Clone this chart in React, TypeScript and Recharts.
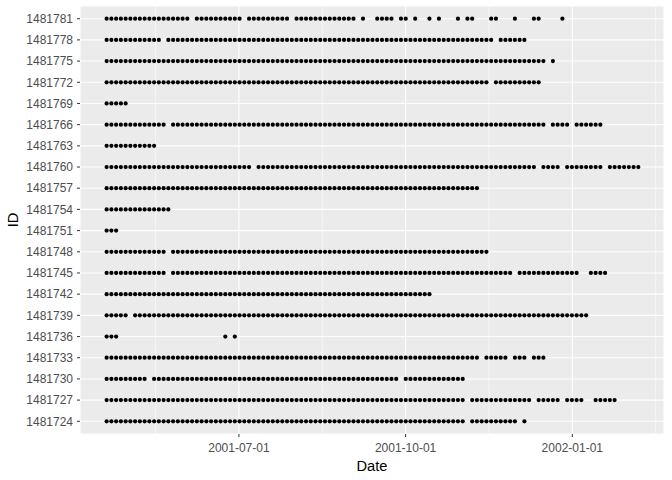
import { ScatterChart, Scatter, XAxis, YAxis, CartesianGrid, Label } from 'recharts'

// animal IDs, bottom row first
const ids = [
  '1481724', '1481727', '1481730', '1481733', '1481736',
  '1481739', '1481742', '1481745', '1481748', '1481751',
  '1481754', '1481757', '1481760', '1481763', '1481766',
  '1481769', '1481772', '1481775', '1481778', '1481781',
]

// one char per fix slot ('#' = fix recorded), spaces only group slots by ten
const fixes = [
  '########## ########## ########## ########## ########## ########## ########## ######.### #######.#',
  '########## ########## ########## ########## ########## ########## ########## ######.### ########## .#####.### #..#####',
  '#########. ########## ########## ########## ########## ########## ##.####### ######',
  '########## ########## ########## ########## ########## ########## ########## #########. #####.###. ###',
  '###....... .......... .....#.#',
  '#####.#### ########## ########## ########## ########## ########## ########## ########## ########## ########## ##',
  '########## ########## ########## ########## ########## ########## #########',
  '########## ###.###### ########## ########## ########## ########## ########## ########## ######.### ########## ..####',
  '########## ###.###### ########## ########## ########## ########## ########## ########## #',
  '###',
  '########## ####',
  '########## ########## ########## ########## ########## ########## ########## #########',
  '########## ########## ########## #.######## ########## ########## ########## ########## ########## #.####.### #####.#### ###',
  '########## #',
  '########## ###.###### ########## ########## ########## ########## ########## ########## ########## ###.####.# #####',
  '#####',
  '########## ########## ########## ########## ########## ########## ########## ########## #.######## ##',
  '########## ########## ########## ########## ########## ########## ########## ########## ########## ###.#',
  '########## ##.####### ########## ########## ########## ########## ########## ########## ##.######',
  '########## ########.# #########. #########. ########## ###.#..### #.##.#..#. #...#.##.. .##...#... ##....#',
]

// days since 2001-01-01
const firstDay = 108
const slotDays = 2.62
const xTickDays = [181, 273, 365]
const xTickLabels = ['2001-07-01', '2001-10-01', '2002-01-01']
const xMinorDays = [135, 227, 319, 411]

const points = fixes.flatMap((s, row) =>
  s.replace(/ /g, '').split('').flatMap((c, k) =>
    c === '#' ? [{ day: firstDay + k * slotDays, row }] : []
  )
)

const rowTicks = ids.map((_, i) => i)

export default function App() {
  return (
    <div style={{ position: 'absolute', left: 0, top: 0, fontFamily: '"Liberation Sans", Arial, sans-serif' }}>
      <ScatterChart width={672} height={480} margin={{ top: 6, right: 8, bottom: 0, left: 0 }}>
        <CartesianGrid fill="#EBEBEB" fillOpacity={1} stroke="#FFFFFF" strokeWidth={1.07} />
        <CartesianGrid horizontal={false} verticalValues={xMinorDays} stroke="#FFFFFF" strokeWidth={0.53} />
        <XAxis
          type="number"
          dataKey="day"
          domain={[93.3, 415.6]}
          ticks={xTickDays}
          interval={0}
          allowDataOverflow
          tickFormatter={(v: number) => xTickLabels[xTickDays.indexOf(v)] ?? ''}
          axisLine={false}
          tickLine={{ stroke: '#333333' }}
          tickSize={3}
          tickMargin={6}
          height={46}
          tick={{ fill: '#4D4D4D', fontSize: 12 }}
        >
          <Label value="Date" position="insideBottom" offset={9} fill="#000000" fontSize={14.7} />
        </XAxis>
        <YAxis
          type="number"
          dataKey="row"
          domain={[-0.6, ids.length - 0.4]}
          ticks={rowTicks}
          interval={0}
          allowDataOverflow
          tickFormatter={(v: number) => ids[v] ?? ''}
          axisLine={false}
          tickLine={{ stroke: '#333333' }}
          tickSize={3}
          tickMargin={4}
          width={80}
          tick={{ fill: '#4D4D4D', fontSize: 12 }}
        >
          <Label
            content={(p: any) => {
              const vb = p.viewBox || { x: 0, y: 6, width: 80, height: 428 }
              const cx = vb.x + 13
              const cy = vb.y + vb.height / 2
              return (
                <text x={cx} y={cy} transform={`rotate(-90 ${cx} ${cy})`} textAnchor="middle"
                  dominantBaseline="central" fontSize={14.7} fill="#000000">ID</text>
              )
            }}
          />
        </YAxis>
        <Scatter
          data={points}
          isAnimationActive={false}
          shape={(p: any) => <circle cx={p.cx} cy={p.cy} r={2.1} fill="#000000" />}
        />
      </ScatterChart>
    </div>
  )
}
